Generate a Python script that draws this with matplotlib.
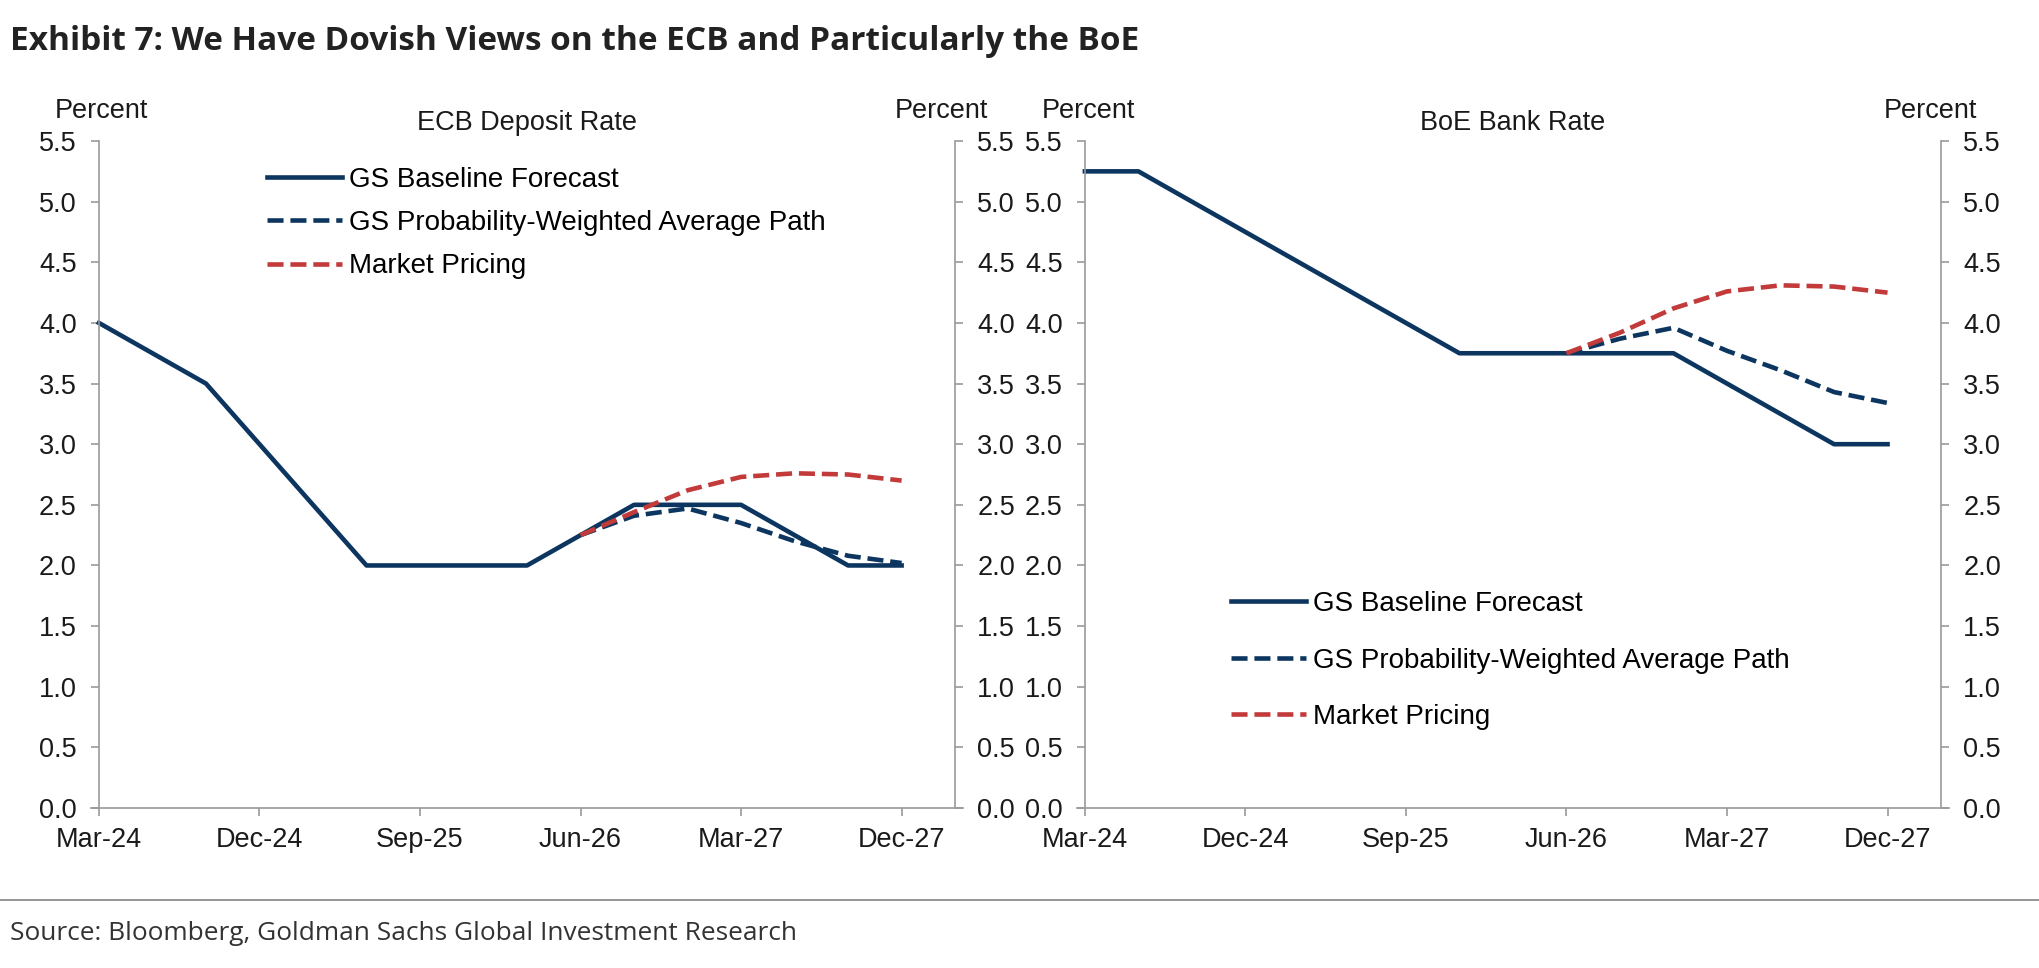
import matplotlib
matplotlib.use("Agg")
import matplotlib.pyplot as plt
from matplotlib.lines import Line2D

plt.rcParams['font.family'] = ['Liberation Sans', 'DejaVu Sans']

# quarterly points, months counted from Mar-24
quarters = [0, 3, 6, 9, 12, 15, 18, 21, 24, 27, 30, 33, 36, 39, 42, 45]
fc_months = [27, 30, 33, 36, 39, 42, 45]   # Jun-26 .. Dec-27
tick_pos = [0, 9, 18, 27, 36, 45]
tick_lab = ['Mar-24', 'Dec-24', 'Sep-25', 'Jun-26', 'Mar-27', 'Dec-27']

ecb_base = [4.0, 3.75, 3.5, 3.0, 2.5, 2.0, 2.0, 2.0, 2.0, 2.25, 2.5, 2.5, 2.5, 2.25, 2.0, 2.0]
ecb_prob = [2.25, 2.41, 2.47, 2.35, 2.20, 2.08, 2.02]
ecb_mkt = [2.25, 2.44, 2.62, 2.73, 2.76, 2.75, 2.70]

boe_base = [5.25, 5.25, 5.0, 4.75, 4.5, 4.25, 4.0, 3.75, 3.75, 3.75, 3.75, 3.75, 3.5, 3.25, 3.0, 3.0]
boe_prob = [3.75, 3.87, 3.96, 3.77, 3.61, 3.43, 3.34]
boe_mkt = [3.75, 3.92, 4.12, 4.26, 4.31, 4.30, 4.25]

labels = ['GS Baseline Forecast', 'GS Probability-Weighted Average Path', 'Market Pricing']

navy = '#0c365f'
red = '#c23a3a'
grey = '#9a9a9a'
txt = '#1a1a1a'
lw = 3.3
dash = (3.5, 1.5)

fig = plt.figure(figsize=(20.4, 9.68), dpi=100)

def panel(rect, title, base, prob, mkt, leg_xy, leg_space):
    ax = fig.add_axes(rect)
    ax.plot(quarters, base, color=navy, lw=lw)
    ax.plot(fc_months, prob, color=navy, lw=lw, dashes=dash)
    ax.plot(fc_months, mkt, color=red, lw=lw, dashes=dash)
    ax.set_xlim(-0.47, 48.47)
    ax.set_ylim(0, 5.5)
    ax.set_xticks(tick_pos)
    ax.set_xticklabels(tick_lab)
    ax.set_yticks([i * 0.5 for i in range(12)])
    ax.set_yticklabels(['%.1f' % (i * 0.5) for i in range(12)])
    ax.spines['top'].set_visible(False)
    ax.spines['left'].set_position(('data', 0))
    ax.spines['right'].set_position(('data', 48))
    for s in ['left', 'right', 'bottom']:
        ax.spines[s].set_color(grey)
        ax.spines[s].set_linewidth(1.2)
    ax.tick_params(axis='both', direction='out', length=6, width=1.2, color=grey,
                   labelsize=19.5, labelcolor=txt)
    ax.tick_params(axis='y', right=True, labelright=True, pad=10)
    ax.tick_params(axis='x', pad=8)
    ax.set_title(title, fontsize=19.5, pad=8, color=txt)
    handles = [Line2D([], [], color=navy, lw=lw),
               Line2D([], [], color=navy, lw=lw, dashes=dash),
               Line2D([], [], color=red, lw=lw, dashes=dash)]
    ax.legend(handles, labels, loc='upper left', bbox_to_anchor=leg_xy,
              bbox_transform=fig.transFigure, frameon=False, fontsize=20,
              handlelength=2.7, handletextpad=0.25, labelspacing=leg_space,
              borderpad=0, borderaxespad=0)
    return ax

ax1 = panel([0.0444, 0.1653, 0.4279, 0.689], 'ECB Deposit Rate',
            ecb_base, ecb_prob, ecb_mkt, (267 / 2040, 1 - 167 / 968), 0.62)
ax2 = panel([0.5277, 0.1653, 0.4279, 0.689], 'BoE Bank Rate',
            boe_base, boe_prob, boe_mkt, (1231 / 2040, 1 - 591 / 968), 1.1)

# "Percent" labels over each y axis
for x in [101, 941, 1088, 1930]:
    fig.text(x / 2040, 1 - 111 / 968, 'Percent', fontsize=19.5, ha='center', va='center', color=txt)

fig.text(10 / 2040, 1 - 42 / 968, 'Exhibit 7: We Have Dovish Views on the ECB and Particularly the BoE',
         fontsize=24, fontweight='bold', family=['Open Sans', 'DejaVu Sans'],
         ha='left', va='center', color='#222222')
fig.add_artist(Line2D([0, 1], [1 - 900 / 968, 1 - 900 / 968], transform=fig.transFigure,
                      color='#8c8c8c', lw=1.3))
fig.text(10 / 2040, 1 - 933 / 968, 'Source: Bloomberg, Goldman Sachs Global Investment Research',
         fontsize=18.9, family=['Open Sans', 'DejaVu Sans'], ha='left', va='center', color='#333333')

fig.savefig('out.png', dpi=100)
